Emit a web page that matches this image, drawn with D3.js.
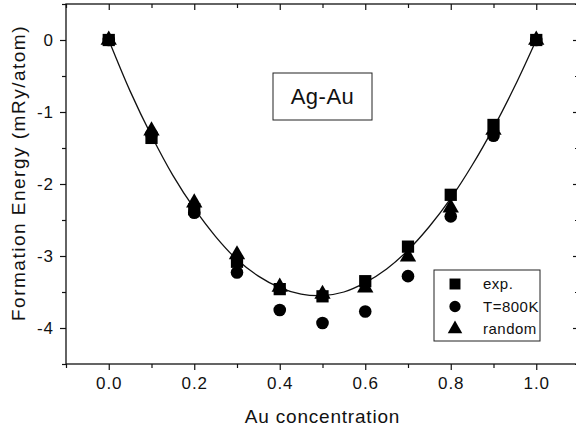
<!DOCTYPE html>
<html>
<head>
<meta charset="utf-8">
<script src="https://cdn.jsdelivr.net/npm/d3@7"></script>
<style>
  body { margin: 0; background: #fff; }
  svg text { font-family: "Liberation Sans", Arial, sans-serif; fill: #111; }
</style>
</head>
<body>
<script>
// concentrations where the three data sets were measured/calculated
const conc = [0.0, 0.1, 0.2, 0.3, 0.4, 0.5, 0.6, 0.7, 0.8, 0.9, 1.0];
const expVals    = [0, -1.36, -2.35, -3.08, -3.46, -3.56, -3.35, -2.87, -2.15, -1.18, 0];
const t800Vals   = [0, -1.31, -2.40, -3.23, -3.75, -3.93, -3.77, -3.28, -2.45, -1.33, 0];
const randomVals = [0, -1.26, -2.26, -2.98, -3.43, -3.53, -3.44, -3.01, -2.33, -1.25, 0];

// fitted curve
const fitX = [0, 0.05, 0.1, 0.15, 0.2, 0.25, 0.3, 0.35, 0.4, 0.45, 0.5, 0.55, 0.6, 0.65, 0.7, 0.75, 0.8, 0.85, 0.9, 0.95, 1.0];
const fitY = [0, -0.71, -1.33, -1.88, -2.34, -2.73, -3.05, -3.28, -3.44, -3.53, -3.55, -3.50, -3.37, -3.18, -2.92, -2.59, -2.20, -1.74, -1.22, -0.64, 0];

const xMajor = [0, 0.2, 0.4, 0.6, 0.8, 1.0];
const xMinor = [-0.1, 0.1, 0.3, 0.5, 0.7, 0.9, 1.1];
const yMajor = [0, -1, -2, -3, -4];
const yMinor = [0.5, -0.5, -1.5, -2.5, -3.5, -4.5];

const legendLabels = ['exp.', 'T=800K', 'random'];

const W = 576, H = 431;
const plot = { left: 66, right: 579, top: 4, bottom: 364 };

const svg = d3.select('body').append('svg')
    .attr('width', W)
    .attr('height', H);

const x = d3.scaleLinear().domain([-0.1, 1.1]).range([plot.left, plot.right]);
const y = d3.scaleLinear().domain([-4.5, 0.5]).range([plot.bottom, plot.top]);

// frame
svg.append('rect')
    .attr('x', plot.left)
    .attr('y', plot.top)
    .attr('width', plot.right - plot.left)
    .attr('height', plot.bottom - plot.top)
    .attr('fill', 'none')
    .attr('stroke', '#111')
    .attr('stroke-width', 1.3);

function styleLabels(g, size) {
    g.selectAll('text')
        .attr('font-size', size)
        .attr('letter-spacing', 1)
        .attr('fill', '#111')
        .attr('font-family', '"Liberation Sans", Arial, sans-serif');
}

// bottom axis with labels
svg.append('g')
    .attr('transform', 'translate(0,' + plot.bottom + ')')
    .call(d3.axisBottom(x).tickValues(xMajor).tickSize(6).tickPadding(7).tickFormat(d3.format('.1f')))
    .call(g => g.select('.domain').remove())
    .call(g => styleLabels(g, 17));

svg.append('g')
    .attr('transform', 'translate(0,' + plot.bottom + ')')
    .call(d3.axisBottom(x).tickValues(xMinor).tickSize(4).tickFormat(''))
    .call(g => g.select('.domain').remove());

// top axis ticks pointing in
svg.append('g')
    .attr('transform', 'translate(0,' + plot.top + ')')
    .call(d3.axisBottom(x).tickValues(xMajor).tickSize(6).tickFormat(''))
    .call(g => g.select('.domain').remove());

svg.append('g')
    .attr('transform', 'translate(0,' + plot.top + ')')
    .call(d3.axisBottom(x).tickValues(xMinor).tickSize(4).tickFormat(''))
    .call(g => g.select('.domain').remove());

// left axis with labels
svg.append('g')
    .attr('transform', 'translate(' + plot.left + ',0)')
    .call(d3.axisLeft(y).tickValues(yMajor).tickSize(6).tickPadding(6).tickFormat(d => d === 0 ? '0' : '-' + Math.abs(d)))
    .call(g => g.select('.domain').remove())
    .call(g => styleLabels(g, 17));

svg.append('g')
    .attr('transform', 'translate(' + plot.left + ',0)')
    .call(d3.axisLeft(y).tickValues(yMinor).tickSize(4).tickFormat(''))
    .call(g => g.select('.domain').remove());

// right axis ticks pointing in
svg.append('g')
    .attr('transform', 'translate(' + plot.right + ',0)')
    .call(d3.axisLeft(y).tickValues(yMajor).tickSize(6).tickFormat(''))
    .call(g => g.select('.domain').remove());

svg.append('g')
    .attr('transform', 'translate(' + plot.right + ',0)')
    .call(d3.axisLeft(y).tickValues(yMinor).tickSize(4).tickFormat(''))
    .call(g => g.select('.domain').remove());

svg.selectAll('.tick line').attr('stroke', '#111').attr('stroke-width', 1.2);

// axis titles
svg.append('text')
    .attr('x', (x(0) + x(1)) / 2)
    .attr('y', 423)
    .attr('text-anchor', 'middle')
    .attr('font-size', 19)
    .attr('letter-spacing', 0.8)
    .text('Au concentration');

svg.append('text')
    .attr('transform', 'translate(25,173) rotate(-90)')
    .attr('text-anchor', 'middle')
    .attr('font-size', 19)
    .attr('letter-spacing', 1.5)
    .text('Formation Energy (mRy/atom)');

// fitted curve
const line = d3.line()
    .x((d, i) => x(fitX[i]))
    .y(d => y(d))
    .curve(d3.curveCatmullRom);

svg.append('path')
    .datum(fitY)
    .attr('d', line)
    .attr('fill', 'none')
    .attr('stroke', '#111')
    .attr('stroke-width', 1.3);

// markers
const shapes = [d3.symbolSquare, d3.symbolCircle, d3.symbolTriangle];
const sizes = [150, 125, 115];
const series = [expVals, t800Vals, randomVals];

series.forEach((vals, s) => {
    svg.append('g')
        .selectAll('path')
        .data(vals)
        .enter()
        .append('path')
        .attr('transform', (d, i) => 'translate(' + x(conc[i]) + ',' + y(d) + ')')
        .attr('d', d3.symbol().type(shapes[s]).size(sizes[s]))
        .attr('fill', '#000');
});

// title box
const box = svg.append('g').attr('transform', 'translate(273,73)');
box.append('rect')
    .attr('width', 99)
    .attr('height', 47)
    .attr('fill', '#fff')
    .attr('stroke', '#222')
    .attr('stroke-width', 1);
box.append('text')
    .attr('x', 49.5)
    .attr('y', 31)
    .attr('text-anchor', 'middle')
    .attr('font-size', 22)
    .attr('letter-spacing', 0.5)
    .text('Ag-Au');

// legend
const legend = svg.append('g').attr('transform', 'translate(434,270)');
legend.append('rect')
    .attr('width', 106)
    .attr('height', 71)
    .attr('fill', '#fff')
    .attr('stroke', '#222')
    .attr('stroke-width', 1);

legend.selectAll('path')
    .data(legendLabels)
    .enter()
    .append('path')
    .attr('transform', (d, i) => 'translate(21,' + (14 + i * 22.5) + ')')
    .attr('d', (d, i) => d3.symbol().type(shapes[i]).size(sizes[i] * 0.8)())
    .attr('fill', '#000');

legend.selectAll('text')
    .data(legendLabels)
    .enter()
    .append('text')
    .attr('x', 49)
    .attr('y', (d, i) => 19 + i * 22.5)
    .attr('font-size', 15)
    .attr('letter-spacing', 0.5)
    .text(d => d);
</script>
</body>
</html>
